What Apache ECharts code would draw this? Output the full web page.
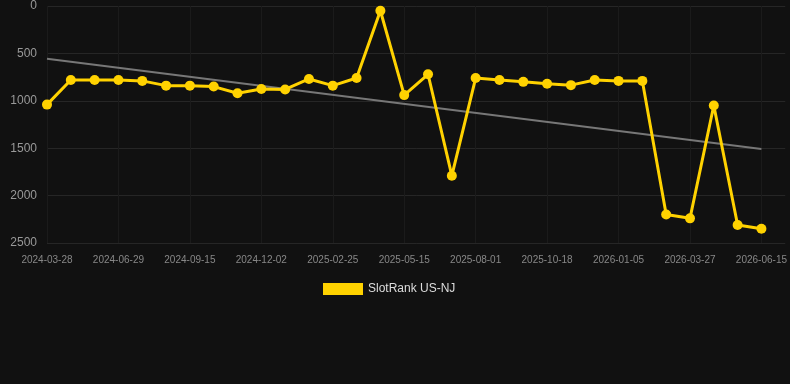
<!DOCTYPE html>
<html>
<head>
<meta charset="utf-8">
<style>
  html, body { margin: 0; padding: 0; background: #111111; }
  #chart { width: 790px; height: 384px; }
</style>
<script src="https://cdn.jsdelivr.net/npm/echarts@6/dist/echarts.min.js"></script>
</head>
<body>
<div id="chart"></div>
<script>
// dates (every third one is labelled), last entry is an empty slot
const dates = [
  '2024-03-28', '2024-04-28', '2024-05-29', '2024-06-29', '2024-07-25', '2024-08-20',
  '2024-09-15', '2024-10-11', '2024-11-06', '2024-12-02', '2024-12-30', '2025-01-28',
  '2025-02-25', '2025-03-23', '2025-04-19', '2025-05-15', '2025-06-10', '2025-07-06',
  '2025-08-01', '2025-08-27', '2025-09-22', '2025-10-18', '2025-11-13', '2025-12-09',
  '2026-01-05', '2026-02-01', '2026-02-28', '2026-03-27', '2026-04-22', '2026-05-19',
  '2026-06-15', ''
];
const rankValues = [
  1040, 780, 780, 780, 790, 840, 840, 850, 920, 875,
  880, 770, 840, 760, 50, 940, 720, 1790, 760, 780,
  800, 820, 835, 780, 790, 790, 2200, 2240, 1050, 2310,
  2350
];
// trend line end points [category index, rank]
const trendPoints = [[0, 556], [30, 1508]];
const seriesName = 'SlotRank US-NJ';

const chart = echarts.init(document.getElementById('chart'));
const option = {
  backgroundColor: '#111111',
  animation: false,
  grid: { left: 47, right: 4, top: 6, bottom: 141 },
  legend: {
    data: [seriesName],
    top: 278,
    left: 318,
    icon: 'rect',
    itemWidth: 40,
    itemHeight: 12,
    textStyle: { color: '#dddddd', fontSize: 12 }
  },
  xAxis: {
    type: 'category',
    data: dates,
    boundaryGap: false,
    axisLine: { show: false },
    axisTick: { show: false },
    axisLabel: { interval: 2, color: '#888888', fontSize: 10, margin: 12 },
    splitLine: { show: true, interval: 2, lineStyle: { color: '#1b1b1b' } }
  },
  yAxis: {
    type: 'value',
    inverse: true,
    min: 0,
    max: 2500,
    interval: 500,
    axisLine: { show: false },
    axisTick: { show: false },
    axisLabel: { color: '#999999', fontSize: 12, margin: 10, formatter: (v) => String(v) },
    splitLine: { lineStyle: { color: '#262626' } }
  },
  series: [
    {
      name: 'trend',
      type: 'line',
      data: trendPoints,
      showSymbol: false,
      lineStyle: { color: '#777777', width: 2 },
      z: 1
    },
    {
      name: seriesName,
      type: 'line',
      data: rankValues,
      symbol: 'circle',
      symbolSize: 10,
      itemStyle: { color: '#ffd200' },
      lineStyle: { color: '#ffd200', width: 3 },
      z: 2
    }
  ]
};
chart.setOption(option);
</script>
</body>
</html>
